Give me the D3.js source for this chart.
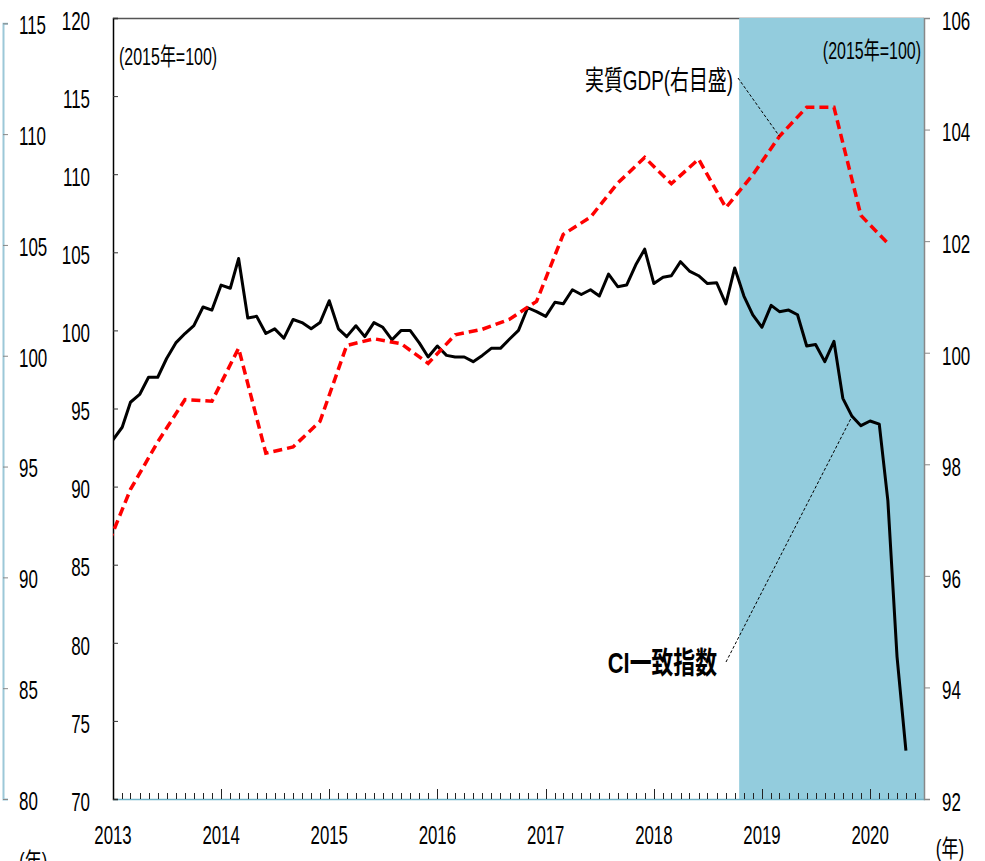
<!DOCTYPE html>
<html>
<head>
<meta charset="utf-8">
<script src="https://cdn.jsdelivr.net/npm/d3@7"></script>
<style>
body { margin: 0; background: #fff; }
text { font-family: "Liberation Sans", Arial, "Noto Sans CJK JP", sans-serif; fill: #000; }
</style>
</head>
<body>
<div id="chart"></div>
<script>
// CI coincident index, monthly from Jan 2013 (left axis, 2015=100)
var ciStart = [2013, 0]
var ciValues = [
	93.0, 93.8, 95.4, 95.9, 97.0, 97.0, 98.2, 99.2, 99.8, 100.3, 101.5, 101.3,
	102.9, 102.7, 104.6, 100.8, 100.9, 99.8, 100.1, 99.5, 100.7, 100.5, 100.1, 100.5,
	101.9, 100.1, 99.6, 100.3, 99.6, 100.5, 100.2, 99.4, 100.0, 100.0, 99.2, 98.3,
	99.0, 98.4, 98.3, 98.3, 98.0, 98.4, 98.85, 98.85, 99.45, 100.0, 101.45, 101.2,
	100.9, 101.8, 101.7, 102.6, 102.3, 102.6, 102.2, 103.6, 102.8, 102.9, 104.2, 105.2,
	103.0, 103.4, 103.5, 104.4, 103.8, 103.5, 103.0, 103.05, 101.7, 104.0, 102.2, 101.0,
	100.2, 101.6, 101.2, 101.3, 101.0, 99.0, 99.1, 98.0, 99.3, 95.65, 94.5, 93.9,
	94.2, 94.0, 89.1, 79.1, 73.1
]

// real GDP, quarterly, plotted at quarter-end month (right axis)
var gdpDates = [
	"2012-12",
	"2013-03", "2013-06", "2013-09", "2013-12",
	"2014-03", "2014-06", "2014-09", "2014-12",
	"2015-03", "2015-06", "2015-09", "2015-12",
	"2016-03", "2016-06", "2016-09", "2016-12",
	"2017-03", "2017-06", "2017-09", "2017-12",
	"2018-03", "2018-06", "2018-09", "2018-12",
	"2019-03", "2019-06", "2019-09", "2019-12",
	"2020-03"
]
var gdpValues = [
	96.38,
	97.55, 98.4, 99.16, 99.13,
	100.08, 98.2, 98.31, 98.77,
	100.13, 100.25, 100.16, 99.81,
	100.32, 100.42, 100.60, 100.92,
	102.12, 102.43, 103.04, 103.5,
	103.03, 103.47, 102.6, 103.19,
	103.88, 104.4, 104.4, 102.46,
	101.96
]

var leftTicks = [70, 75, 80, 85, 90, 95, 100, 105, 110, 115, 120]
var rightTicks = [92, 94, 96, 98, 100, 102, 104, 106]
var ghostTicks = [80, 85, 90, 95, 100, 105, 110, 115]
var yearLabels = ["2013", "2014", "2015", "2016", "2017", "2018", "2019", "2020"]
var recessionStart = "2018-10-16"

var width = 985, height = 861
var x0 = 113, x1 = 924, yTop = 18, yBot = 799

var parseMonth = d3.timeParse("%Y-%m")

var svg = d3.select("#chart").append("svg")
	.attr("width", width)
	.attr("height", height)

var x = d3.scaleTime()
	.domain([new Date(2013, 0, 1), new Date(2020, 6, 1)])
	.range([x0, x1])

var yL = d3.scaleLinear().domain([70, 120]).range([yBot, yTop])
var yR = d3.scaleLinear().domain([92, 106]).range([yBot, yTop])
// leftover axis of the neighbouring chart at the far left
var yG = d3.scaleLinear().domain([80, 115]).range([yBot, 23.3])

var ci = ciValues.map(function(v, i){
	return {date: new Date(ciStart[0], ciStart[1] + i, 1), value: v}
})
var gdp = gdpDates.map(function(d, i){
	return {date: parseMonth(d), value: gdpValues[i]}
})

// helper for the tall narrow lettering
function label(px, py, s, size, sx, sy, anchor, weight){
	return svg.append("text")
		.attr("transform", "translate(" + px + "," + py + ") scale(" + sx + "," + sy + ")")
		.attr("text-anchor", anchor || "start")
		.attr("dy", "0.35em")
		.style("font-size", size + "px")
		.style("font-weight", weight || "normal")
		.text(s)
}

var SX = 0.77, SY = 1.14, FS = 22

// frame top line
svg.append("line")
	.attr("x1", x0).attr("x2", x1)
	.attr("y1", yTop + 0.5).attr("y2", yTop + 0.5)
	.attr("stroke", "#555").attr("stroke-width", 1.5)

// shaded recession
svg.append("rect")
	.attr("x", x(new Date(recessionStart)))
	.attr("y", yTop)
	.attr("width", x1 - x(new Date(recessionStart)))
	.attr("height", yBot - yTop)
	.attr("fill", "#93ccdd")

// bottom line
svg.append("line")
	.attr("x1", x0).attr("x2", x1 + 1)
	.attr("y1", yBot + 0.5).attr("y2", yBot + 0.5)
	.attr("stroke", "#6fb3c8").attr("stroke-width", 1.5)

// month / year ticks
var gx = svg.append("g")
gx.selectAll("line.m")
	.data(d3.timeMonth.range(new Date(2013, 0, 1), new Date(2020, 6, 2)))
	.enter().append("line")
	.attr("x1", function(d){ return Math.round(x(d)) + 0.5 })
	.attr("x2", function(d){ return Math.round(x(d)) + 0.5 })
	.attr("y1", yBot)
	.attr("y2", function(d){ return d.getMonth() == 0 ? yBot - 10 : yBot - 6 })
	.attr("stroke", "#222").attr("stroke-width", 1)

yearLabels.forEach(function(t){
	label(x(new Date(+t, 0, 1)), 835, t, 21, 0.8, 1.25, "middle")
})
label(950, 849, "(年)", 20, 0.85, 1.2, "middle")

// left axis
var axL = svg.append("g")
	.attr("transform", "translate(" + x0 + ",0)")
	.call(d3.axisLeft(yL).tickValues(leftTicks).tickSize(-5).tickFormat(""))
axL.select(".domain").attr("stroke", "#000").attr("stroke-width", 1.5)
axL.selectAll(".tick line").attr("stroke", "#333")
leftTicks.forEach(function(v){
	label(90, yL(v) + 3, v, FS, SX, SY, "end")
})

// right axis
var axR = svg.append("g")
	.attr("transform", "translate(" + x1 + ",0)")
	.call(d3.axisRight(yR).tickValues(rightTicks).tickSize(6).tickFormat(""))
axR.select(".domain").attr("stroke", "#888").attr("stroke-width", 1.5)
axR.selectAll(".tick line").attr("stroke", "#888")
rightTicks.forEach(function(v){
	label(942, yR(v) + 3, v, FS, SX, SY, "start")
})

// ghost axis at the far left
var axG = svg.append("g")
	.attr("transform", "translate(3,0)")
	.call(d3.axisRight(yG).tickValues(ghostTicks).tickSize(5).tickFormat(""))
axG.select(".domain").attr("stroke", "#9cc8d8").attr("stroke-width", 2)
axG.selectAll(".tick line").attr("stroke", "#888")
ghostTicks.forEach(function(v){
	label(19, yG(v) + 2, v, FS, SX, SY, "start")
})
label(19, 862, "(年)", 20, 0.85, 1.2, "start")

// series
svg.append("clipPath").attr("id", "plot")
	.append("rect").attr("x", x0).attr("y", yTop).attr("width", x1 - x0).attr("height", yBot - yTop)

var lineCI = d3.line()
	.x(function(d){ return x(d.date) })
	.y(function(d){ return yL(d.value) })
var lineGDP = d3.line()
	.x(function(d){ return x(d.date) })
	.y(function(d){ return yR(d.value) })

svg.append("path")
	.datum(ci)
	.attr("clip-path", "url(#plot)")
	.attr("fill", "none")
	.attr("stroke", "#000")
	.attr("stroke-width", 3)
	.attr("stroke-linejoin", "round")
	.attr("d", lineCI)

svg.append("path")
	.datum(gdp)
	.attr("clip-path", "url(#plot)")
	.attr("fill", "none")
	.attr("stroke", "#ff0000")
	.attr("stroke-width", 3.5)
	.attr("stroke-dasharray", "9,5")
	.attr("d", lineGDP)

// labels and leader lines
label(119, 57, "(2015年=100)", 20, 0.8, 1.2, "start")
label(921, 51, "(2015年=100)", 20, 0.8, 1.2, "end")

label(733, 80, "実質GDP(右目盛)", 21, 0.9, 1.3, "end")
var gdpNote = gdp[25]
svg.append("line")
	.attr("x1", 738).attr("y1", 78)
	.attr("x2", x(gdpNote.date)).attr("y2", yR(gdpNote.value))
	.attr("stroke", "#000").attr("stroke-width", 1).attr("stroke-dasharray", "3,2")

label(717, 663, "CI一致指数", 23, 0.95, 1.3, "end", "bold")
var ciNote = ci[82]
svg.append("line")
	.attr("x1", 726).attr("y1", 662)
	.attr("x2", x(ciNote.date)).attr("y2", yL(ciNote.value))
	.attr("stroke", "#000").attr("stroke-width", 1).attr("stroke-dasharray", "3,2")
</script>
</body>
</html>
